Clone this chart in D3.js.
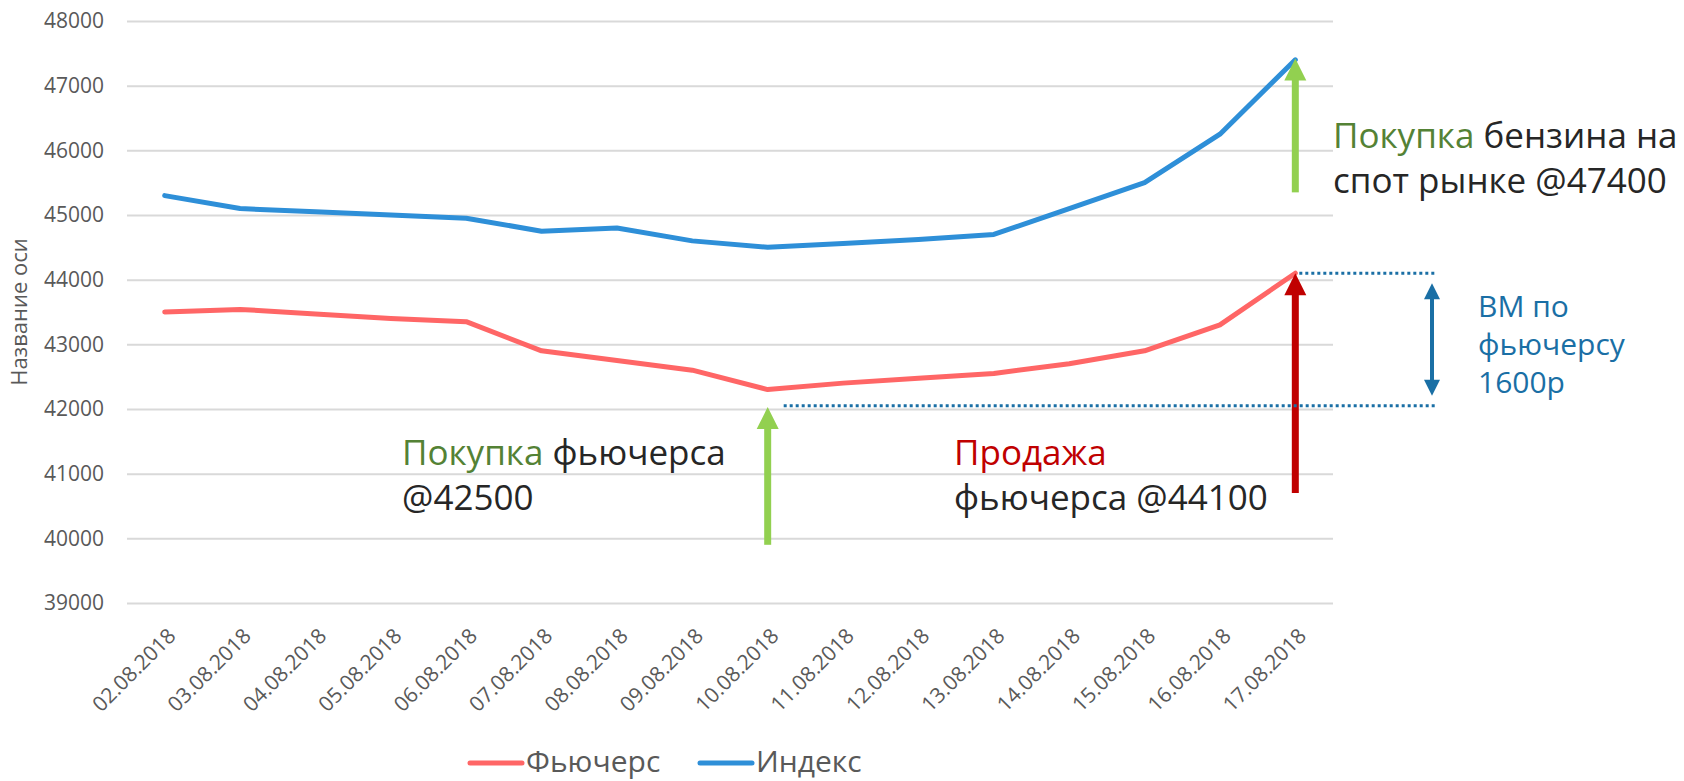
<!DOCTYPE html>
<html>
<head>
<meta charset="utf-8">
<script src="https://cdn.jsdelivr.net/npm/d3@7"></script>
<style>
  body { margin: 0; background: #fff; }
  svg { display: block; font-family: "Open Sans", sans-serif; }
</style>
</head>
<body>
<svg id="chart" width="1684" height="781"></svg>
<script>
// data
var dates = ["02.08.2018", "03.08.2018", "04.08.2018", "05.08.2018", "06.08.2018", "07.08.2018",
  "08.08.2018", "09.08.2018", "10.08.2018", "11.08.2018", "12.08.2018", "13.08.2018",
  "14.08.2018", "15.08.2018", "16.08.2018", "17.08.2018"];
var futures = [43500, 43540, 43470, 43400, 43350, 42900, 42750, 42600, 42300, 42400,
  42475, 42550, 42700, 42900, 43300, 44100];
var indexValues = [45300, 45100, 45050, 45000, 44950, 44750, 44800, 44600, 44500, 44560,
  44620, 44700, 45100, 45500, 46250, 47400];
var yTicks = [39000, 40000, 41000, 42000, 43000, 44000, 45000, 46000, 47000, 48000];
var seriesNames = ["Фьючерс", "Индекс"];

// annotation arrows: [date, from value, to value]
var buyFutArrow = ["10.08.2018", 39900, 42030];
var sellFutArrow = ["17.08.2018", 40700, 44100];
var buySpotArrow = ["17.08.2018", 45350, 47420];
var vmLevels = [44100, 42050];

function chart() {
  var svg = d3.select("#chart"),
    margin = {top: 21, right: 351, bottom: 178, left: 127},
    width = +svg.attr("width") - margin.left - margin.right,
    height = +svg.attr("height") - margin.top - margin.bottom;

  var x = d3.scalePoint().domain(dates).range([0, width]).padding(0.5),
    y = d3.scaleLinear().domain([39000, 48000]).range([height, 0]);

  var g = svg.append("g")
    .attr("transform", "translate(" + margin.left + "," + margin.top + ")");

  // gridlines
  g.append("g")
    .call(d3.axisLeft(y).tickValues(yTicks).tickSize(-width).tickFormat(""))
    .call(function(a) { a.select(".domain").remove(); })
    .selectAll("line")
      .attr("stroke", "#d9d9d9")
      .attr("stroke-width", 2);

  // y tick labels
  g.selectAll(".ylab")
    .data(yTicks)
    .enter().append("text")
      .attr("x", -23)
      .attr("y", function(d) { return y(d); })
      .attr("dy", "0.35em")
      .attr("text-anchor", "end")
      .attr("fill", "#595959")
      .style("font-size", "21px")
      .text(function(d) { return d; });

  // axis title
  svg.append("text")
    .attr("transform", "translate(27," + (margin.top + height / 2) + ") rotate(-90)")
    .attr("text-anchor", "middle")
    .attr("fill", "#595959")
    .style("font-size", "22px")
    .text("Название оси");

  // x tick labels
  g.selectAll(".xlab")
    .data(dates)
    .enter().append("text")
      .attr("transform", function(d) { return "translate(" + (x(d) + 7) + "," + (height + 29) + ") rotate(-45)"; })
      .attr("text-anchor", "end")
      .attr("dy", "0.35em")
      .attr("fill", "#595959")
      .style("font-size", "21px")
      .text(function(d) { return d; });

  var line = d3.line()
    .x(function(d, i) { return x(dates[i]); })
    .y(function(d) { return y(d); });

  var colors = ["#ff6666", "#2e8fd8"];

  g.append("path")
    .datum(futures)
    .attr("d", line)
    .attr("fill", "none")
    .attr("stroke", colors[0])
    .attr("stroke-width", 5)
    .attr("stroke-linejoin", "round")
    .attr("stroke-linecap", "round");

  g.append("path")
    .datum(indexValues)
    .attr("d", line)
    .attr("fill", "none")
    .attr("stroke", colors[1])
    .attr("stroke-width", 5)
    .attr("stroke-linejoin", "round")
    .attr("stroke-linecap", "round");

  // arrows
  function arrowUp(a, color) {
    var ax = x(a[0]), y0 = y(a[1]), y1 = y(a[2]);
    g.append("line")
      .attr("x1", ax).attr("x2", ax)
      .attr("y1", y0).attr("y2", y1 + 18)
      .attr("stroke", color)
      .attr("stroke-width", 7);
    g.append("path")
      .attr("d", "M" + (ax - 11) + "," + (y1 + 22) + "L" + ax + "," + y1 + "L" + (ax + 11) + "," + (y1 + 22) + "Z")
      .attr("fill", color);
  }
  arrowUp(buyFutArrow, "#92d050");
  arrowUp(sellFutArrow, "#c00000");
  arrowUp(buySpotArrow, "#92d050");

  // variation margin dotted levels
  var vmColor = "#1a6fa5";
  g.append("line")
    .attr("x1", x("17.08.2018") + 4).attr("x2", width + 104)
    .attr("y1", y(vmLevels[0])).attr("y2", y(vmLevels[0]))
    .attr("stroke", vmColor).attr("stroke-width", 3).attr("stroke-dasharray", "3,3");
  g.append("line")
    .attr("x1", x("10.08.2018") + 16).attr("x2", width + 104)
    .attr("y1", y(vmLevels[1])).attr("y2", y(vmLevels[1]))
    .attr("stroke", vmColor).attr("stroke-width", 3).attr("stroke-dasharray", "3,3");

  // double arrow
  var dx = width + 99, top = y(vmLevels[0]) + 10, bot = y(vmLevels[1]) - 10;
  g.append("line")
    .attr("x1", dx).attr("x2", dx)
    .attr("y1", top + 12).attr("y2", bot - 12)
    .attr("stroke", vmColor).attr("stroke-width", 4);
  g.append("path")
    .attr("d", "M" + (dx - 8) + "," + (top + 16) + "L" + dx + "," + top + "L" + (dx + 8) + "," + (top + 16) + "Z")
    .attr("fill", vmColor);
  g.append("path")
    .attr("d", "M" + (dx - 8) + "," + (bot - 16) + "L" + dx + "," + bot + "L" + (dx + 8) + "," + (bot - 16) + "Z")
    .attr("fill", vmColor);

  // annotation texts
  function note(tx, ty, lines, size, lh) {
    var t = svg.append("text")
      .attr("x", tx).attr("y", ty)
      .style("font-size", size + "px");
    lines.forEach(function(parts, i) {
      parts.forEach(function(p, j) {
        var s = t.append("tspan").attr("fill", p[1]).text(p[0]);
        if (j === 0) s.attr("x", tx).attr("dy", i === 0 ? 0 : lh);
      });
    });
  }
  note(1333, 148, [[["Покупка", "#548235"], [" бензина на", "#262626"]],
    [["спот рынке @47400", "#262626"]]], 35, 45);
  note(402, 465, [[["Покупка", "#548235"], [" фьючерса", "#262626"]],
    [["@42500", "#262626"]]], 35, 45);
  note(954, 465, [[["Продажа", "#c00000"]],
    [["фьючерса @44100", "#262626"]]], 35, 45);
  note(1478, 317, [[["ВМ по", vmColor]], [["фьючерсу", vmColor]], [["1600р", vmColor]]], 30, 38);

  // legend
  var leg = svg.append("g").attr("transform", "translate(470,763)");
  var legX = [0, 230];
  seriesNames.forEach(function(n, i) {
    leg.append("line")
      .attr("x1", legX[i]).attr("x2", legX[i] + 52)
      .attr("y1", 0).attr("y2", 0)
      .attr("stroke", colors[i]).attr("stroke-width", 5)
      .attr("stroke-linecap", "round");
    leg.append("text")
      .attr("x", legX[i] + 56).attr("y", 9)
      .attr("fill", "#595959")
      .style("font-size", "30px")
      .text(n);
  });
}

chart();
</script>
</body>
</html>
